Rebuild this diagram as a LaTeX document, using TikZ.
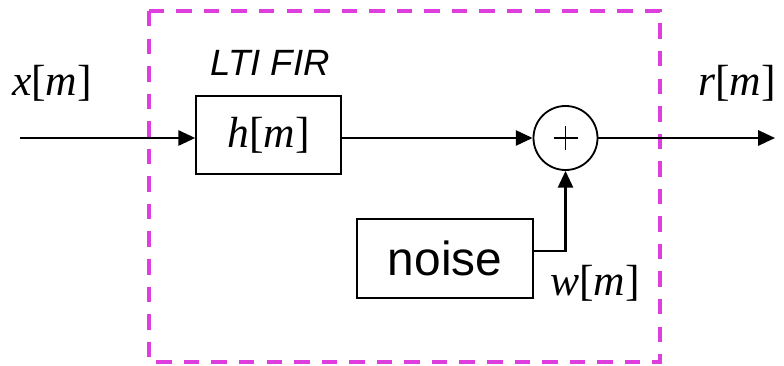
\documentclass[tikz,border=0pt]{standalone}
\usepackage{fontspec}
\setmainfont{Liberation Sans}
\newfontfamily\sigfont{Liberation Serif}
\usetikzlibrary{arrows.meta,positioning}
\definecolor{fuchsia}{RGB}{222,62,222}
\newcommand{\sig}[1]{{\sigfont\fontsize{31}{34}\selectfont\textit{#1}[\textit{m}]}}
\tikzset{
  >={Triangle[length=4.2mm,width=3.8mm]},
  blk/.style={draw,line width=1.3pt,minimum width=#1,minimum height=19.6mm,inner sep=0pt},
  blk/.default=36mm,
  sumnode/.style={circle,draw,line width=1.3pt,minimum size=16mm,inner sep=0pt},
  sigline/.style={->,line width=1.5pt},
  wire/.style={line width=1.5pt},
  firbox/.style={draw=fuchsia,line width=2.2pt,dash pattern=on 11pt off 8.6pt},
  tag/.style={inner sep=0pt},
}
\begin{document}
\begin{tikzpicture}[x=0.025cm,y=-0.025cm]
  \useasboundingbox (0,0) rectangle (784,366);
  % system boundary
  \draw[firbox] (149,11) rectangle (660,362);
  % blocks
  \coordinate (in) at (20,138);
  \node[blk=36.2mm] (fir) at (268.5,135) {\sig{h}};
  \node[sumnode] (sum) at (565.5,138) {};
  \draw[line width=1pt] ([xshift=-3mm]sum.center) -- ([xshift=3mm]sum.center)
    ([yshift=-3mm]sum.center) -- ([yshift=3mm]sum.center);
  \node[blk=44mm,minimum height=19.7mm,font=\fontsize{34}{37}\selectfont] (noise) at (445,258.5) {noise};
  \coordinate (out) at (775,138);
  % connections
  \draw[sigline] (in) -- (in -| fir.west);
  \draw[sigline] (fir.east |- sum) -- (sum.west);
  \draw[sigline] (sum.east) -- (out);
  \draw[wire] ([yshift=1.9mm]noise.east) -| ([yshift=-10mm]sum.south);
  \draw[sigline] ([yshift=-10mm]sum.south) -- (sum.south);
  % labels
  \node[tag] (xlab) at (52,83) {\sig{x}};
  \node[tag] (rlab) at (737,83) {\sig{r}};
  \node[tag] (wlab) at (595,283) {\sig{w}};
  \node[tag,font=\fontsize{26}{29}\selectfont\itshape] (ltilab) at (270,63) {LTI FIR};
\end{tikzpicture}
\end{document}
